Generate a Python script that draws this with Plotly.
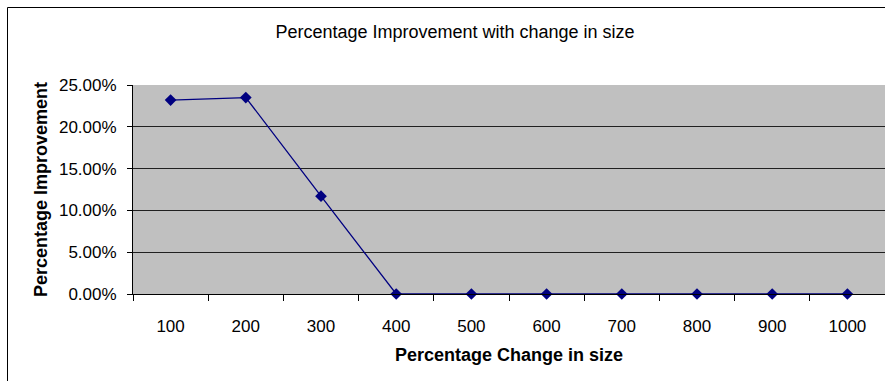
import plotly.graph_objects as go

sizes = ["100", "200", "300", "400", "500", "600", "700", "800", "900", "1000"]
improvement = [0.232, 0.235, 0.117, 0.0, 0.0, 0.0, 0.0, 0.0, 0.0, 0.0]
y_ticks = [0, 0.05, 0.10, 0.15, 0.20, 0.25]

W, H = 885, 381
L, R, T, B = 133, 0, 85, 87
pw = W - L - R
ph = H - T - B

fig = go.Figure()
fig.add_trace(go.Scatter(
    x=sizes, y=improvement, mode="lines+markers",
    line=dict(color="#000080", width=1.3),
    marker=dict(symbol="diamond", size=9, color="#000080"),
    showlegend=False, cliponaxis=False,
))

font = "Liberation Sans, Arial, sans-serif"
fig.update_layout(
    width=W, height=H, autosize=False,
    margin=dict(l=L, r=R, t=T, b=B, autoexpand=False),
    paper_bgcolor="white",
    plot_bgcolor="#c0c0c0",
    font=dict(family=font, color="black", size=17),
    title=dict(text="Percentage Improvement with change in size",
               x=(455 - L) / pw, xref="paper", xanchor="center",
               y=1 - 32 / H, yref="container", yanchor="middle",
               font=dict(size=18, family=font)),
    xaxis=dict(
        type="category", range=[-0.5, 9.5], automargin=False,
        showline=True, linecolor="black", linewidth=1,
        ticks="outside", ticklen=6, tickcolor="black", tickson="boundaries",
        ticklabelstandoff=17,
        showgrid=False, zeroline=False,
        tickfont=dict(size=17),
        title=dict(text="<b>Percentage Change in size</b>", font=dict(size=18), standoff=12),
    ),
    yaxis=dict(
        range=[0, 0.25], tickvals=y_ticks, tickformat=".2%", automargin=False,
        showline=True, linecolor="black", linewidth=1,
        ticks="outside", ticklen=5, tickcolor="black",
        ticklabelstandoff=7,
        showgrid=True, gridcolor="#202020", gridwidth=1,
        zeroline=False,
        tickfont=dict(size=17),
        title=dict(text="<b>Percentage Improvement</b>", font=dict(size=18), standoff=6),
    ),
    shapes=[dict(type="rect", xref="paper", yref="paper",
                 x0=(7.5 - L) / pw, x1=(W + 5 - L) / pw,
                 y0=-(H + 5 - T - ph) / ph, y1=1 + (T - 7.5) / ph,
                 line=dict(color="black", width=1), fillcolor="rgba(0,0,0,0)",
                 layer="below")],
)

fig.write_html(
    "out.html",
    config={"responsive": False, "displayModeBar": False},
    post_script="document.body.style.margin='0';document.body.style.overflow='hidden';",
)
